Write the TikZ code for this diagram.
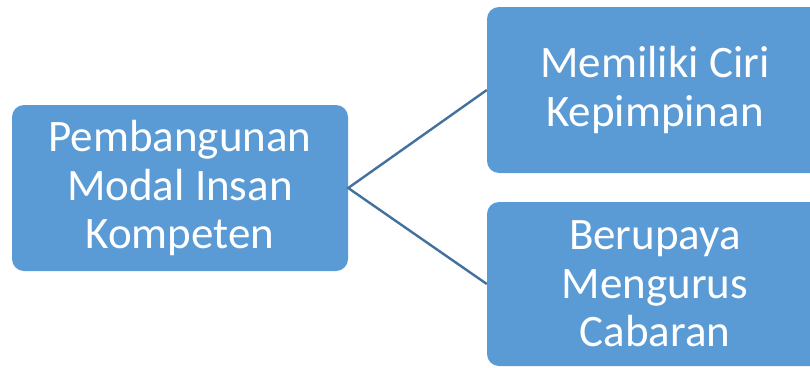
\documentclass[tikz,border=0pt]{standalone}
\usepackage{fontspec}
\setmainfont{Carlito}
\begin{document}
\begin{tikzpicture}[x=1pt,y=-1pt,
  boxstyle/.style={draw=none,fill={rgb,255:red,91;green,155;blue,213},rounded corners=12pt,
    text=white,align=center,inner sep=0pt,font=\fontsize{45}{48.5}\selectfont},
  linkstyle/.style={draw={rgb,255:red,65;green,113;blue,156},line width=2.4pt}]
\useasboundingbox (0,0) rectangle (810,367);
\clip (0,0) rectangle (810,367);
\node[boxstyle,minimum width=336pt,minimum height=166pt] (root) at (180,188) {Pembangunan\\Modal Insan\\Kompeten};
\node[boxstyle,minimum width=336pt,minimum height=166pt] (top) at (655,90) {Memiliki Ciri\\Kepimpinan};
\node[boxstyle,minimum width=336pt,minimum height=164pt] (bot) at (655,284) {Berupaya\\Mengurus\\Cabaran};
\draw[linkstyle] (top.west) -- (root.east) -- (bot.west);
\end{tikzpicture}
\end{document}
